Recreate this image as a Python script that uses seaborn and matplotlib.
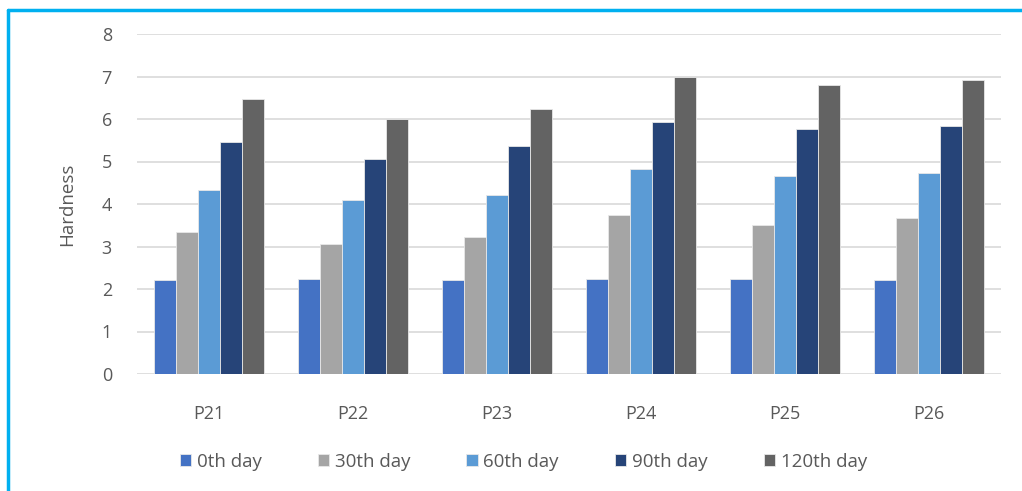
import matplotlib
matplotlib.use("Agg")
import matplotlib.pyplot as plt
from matplotlib.lines import Line2D
import pandas as pd
import seaborn as sns

samples = ["P21", "P22", "P23", "P24", "P25", "P26"]
periods = ["0th day", "30th day", "60th day", "90th day", "120th day"]
day0 = [2.21, 2.24, 2.21, 2.23, 2.23, 2.21]
day30 = [3.33, 3.07, 3.22, 3.73, 3.50, 3.66]
day60 = [4.34, 4.09, 4.21, 4.82, 4.67, 4.74]
day90 = [5.47, 5.07, 5.37, 5.93, 5.76, 5.84]
day120 = [6.46, 6.01, 6.23, 7.00, 6.81, 6.92]
colors = ["#4472C4", "#A5A5A5", "#5B9BD5", "#264478", "#636363"]

series = [day0, day30, day60, day90, day120]
rows = []
for period, vals in zip(periods, series):
    for s, v in zip(samples, vals):
        rows.append({"Sample": s, "Period": period, "Hardness": v})
df = pd.DataFrame(rows)

sns.set_theme(style="white")
plt.rcParams["font.family"] = ["Open Sans", "DejaVu Sans"]
text_color = "#595959"

fig = plt.figure(figsize=(10.22, 4.91), dpi=100)
ax = fig.add_axes([137 / 1022, 1 - 374 / 491, 864 / 1022, 340 / 491])

sns.barplot(data=df, x="Sample", y="Hardness", hue="Period", order=samples,
            hue_order=periods, palette=colors, width=0.76, gap=0,
            edgecolor="#E8E8E8", linewidth=0.6, saturation=1, ax=ax,
            legend=True, errorbar=None)

ax.set_ylim(0, 8)
ax.set_xlim(-0.5, 5.5)
ax.set_yticks(range(0, 9))
ax.yaxis.grid(True, color="#D9D9D9", linewidth=1.2)
ax.set_axisbelow(True)
for sp in ax.spines.values():
    sp.set_visible(False)
ax.tick_params(axis="both", length=0, colors=text_color, labelsize=13)
ax.tick_params(axis="y", pad=18)
ax.tick_params(axis="x", pad=22)
ax.set_xlabel("")
ax.set_ylabel("Hardness", color=text_color, fontsize=13.5, labelpad=18)

handles, labels = ax.get_legend_handles_labels()
ax.get_legend().remove()
fig.legend(handles, labels, loc="center", bbox_to_anchor=(0.512, 0.059),
           ncol=5, frameon=False, fontsize=13.5, labelcolor=text_color,
           handlelength=0.6, handleheight=0.6, handletextpad=0.3,
           columnspacing=3.0)

# frame border on the top and left edges
fig.add_artist(Line2D([8 / 1022, 1.0], [1 - 10 / 491, 1 - 10 / 491],
                      color="#00B0F0", linewidth=2.5, transform=fig.transFigure))
fig.add_artist(Line2D([8 / 1022, 8 / 1022], [1 - 10 / 491, 0.0],
                      color="#00B0F0", linewidth=2.5, transform=fig.transFigure))

fig.savefig("out.png", dpi=100)
